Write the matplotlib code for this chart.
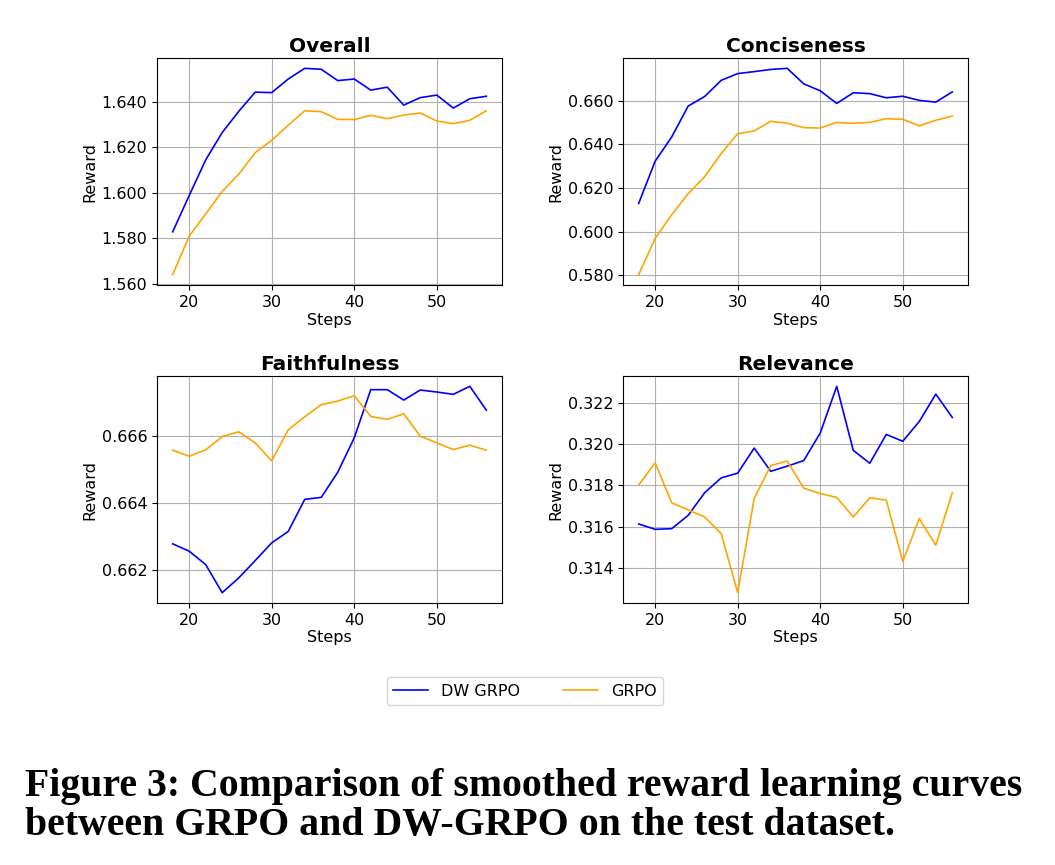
import matplotlib
matplotlib.use("Agg")
import matplotlib.pyplot as plt
from matplotlib.ticker import FormatStrFormatter, MultipleLocator

# ── Data ───────────────────────────────────────────────────────────────────────
steps = [18, 20, 22, 24, 26, 28, 30, 32, 34, 36,
         38, 40, 42, 44, 46, 48, 50, 52, 54, 56]

overall_dw   = [1.5828, 1.5988, 1.6145, 1.6266, 1.6359, 1.6444, 1.6442, 1.6502, 1.6549, 1.6545,
                1.6495, 1.6502, 1.6453, 1.6466, 1.6387, 1.6420, 1.6431, 1.6374, 1.6415, 1.6426]
overall_grpo = [1.5639, 1.5809, 1.5907, 1.6006, 1.6082, 1.6177, 1.6232, 1.6298, 1.6362, 1.6358,
                1.6324, 1.6323, 1.6342, 1.6327, 1.6343, 1.6352, 1.6317, 1.6305, 1.6320, 1.6362]

concise_dw   = [0.6129, 0.6323, 0.6434, 0.6576, 0.6620, 0.6694, 0.6725, 0.6734, 0.6744, 0.6749,
                0.6678, 0.6646, 0.6588, 0.6637, 0.6633, 0.6614, 0.6621, 0.6602, 0.6594, 0.6641]
concise_grpo = [0.5802, 0.5969, 0.6077, 0.6174, 0.6252, 0.6358, 0.6449, 0.6462, 0.6506, 0.6497,
                0.6477, 0.6475, 0.6501, 0.6497, 0.6501, 0.6518, 0.6515, 0.6485, 0.6511, 0.6530]

faith_dw   = [0.66278, 0.66256, 0.66216, 0.66132, 0.66176, 0.66228, 0.66281, 0.66315, 0.66411, 0.66417,
              0.66492, 0.66595, 0.66739, 0.66739, 0.66708, 0.66738, 0.66732, 0.66725, 0.66749, 0.66678]
faith_grpo = [0.66558, 0.66540, 0.66559, 0.66599, 0.66613, 0.66580, 0.66526, 0.66619, 0.66658, 0.66694,
              0.66705, 0.66721, 0.66659, 0.66650, 0.66667, 0.66600, 0.66580, 0.66560, 0.66573, 0.66558]

relev_dw   = [0.31613, 0.31587, 0.31590, 0.31655, 0.31765, 0.31837, 0.31860, 0.31982, 0.31869, 0.31894,
              0.31921, 0.32055, 0.32282, 0.31971, 0.31908, 0.32048, 0.32015, 0.32111, 0.32244, 0.32131]
relev_grpo = [0.31802, 0.31910, 0.31716, 0.31681, 0.31647, 0.31566, 0.31279, 0.31737, 0.31897, 0.31919,
              0.31787, 0.31761, 0.31742, 0.31647, 0.31740, 0.31729, 0.31431, 0.31639, 0.31510, 0.31765]

titles    = ["Overall", "Conciseness", "Faithfulness", "Relevance"]
dw_sets   = [overall_dw, concise_dw, faith_dw, relev_dw]
gr_sets   = [overall_grpo, concise_grpo, faith_grpo, relev_grpo]
tick_step = [0.02, 0.02, 0.002, 0.002]

caption = ("Figure 3: Comparison of smoothed reward learning curves\n"
           "between GRPO and DW-GRPO on the test dataset.")

# ── Layout ─────────────────────────────────────────────────────────────────────
fig = plt.figure(figsize=(10.55, 8.65), dpi=100)
W, H = 0.327, 0.2624
boxes = [(0.1488, 0.6705), (0.5905, 0.6705), (0.1488, 0.3029), (0.5905, 0.3029)]

for (x0, y0), title, dw, gr, step in zip(boxes, titles, dw_sets, gr_sets, tick_step):
    ax = fig.add_axes([x0, y0, W, H])
    ax.plot(steps, dw, color="blue", lw=1.2, label="DW GRPO")
    ax.plot(steps, gr, color="orange", lw=1.2, label="GRPO")
    ax.set_title(title, fontsize=14.5, fontweight="bold", pad=4)
    ax.set_xlabel("Steps", fontsize=11.5, labelpad=2)
    ax.set_ylabel("Reward", fontsize=11.5, labelpad=3)
    ax.tick_params(labelsize=11.5)
    ax.set_xticks([20, 30, 40, 50])
    ax.yaxis.set_major_locator(MultipleLocator(step))
    ax.yaxis.set_major_formatter(FormatStrFormatter("%.3f"))
    ax.grid(True, color="#b0b0b0", lw=0.8)
    ax.set_axisbelow(True)

handles, labels = ax.get_legend_handles_labels()
fig.legend(handles, labels, loc="center", bbox_to_anchor=(525 / 1055, 1 - 691 / 865),
           ncol=2, fontsize=11.5, columnspacing=2.7, handlelength=2.2, frameon=True)

fig.text(25 / 1055, 1 - 806 / 865, caption, ha="left", va="center",
         fontsize=28.6, fontweight="bold", family="Liberation Serif", linespacing=1.08)

fig.savefig("out.png", dpi=100)
